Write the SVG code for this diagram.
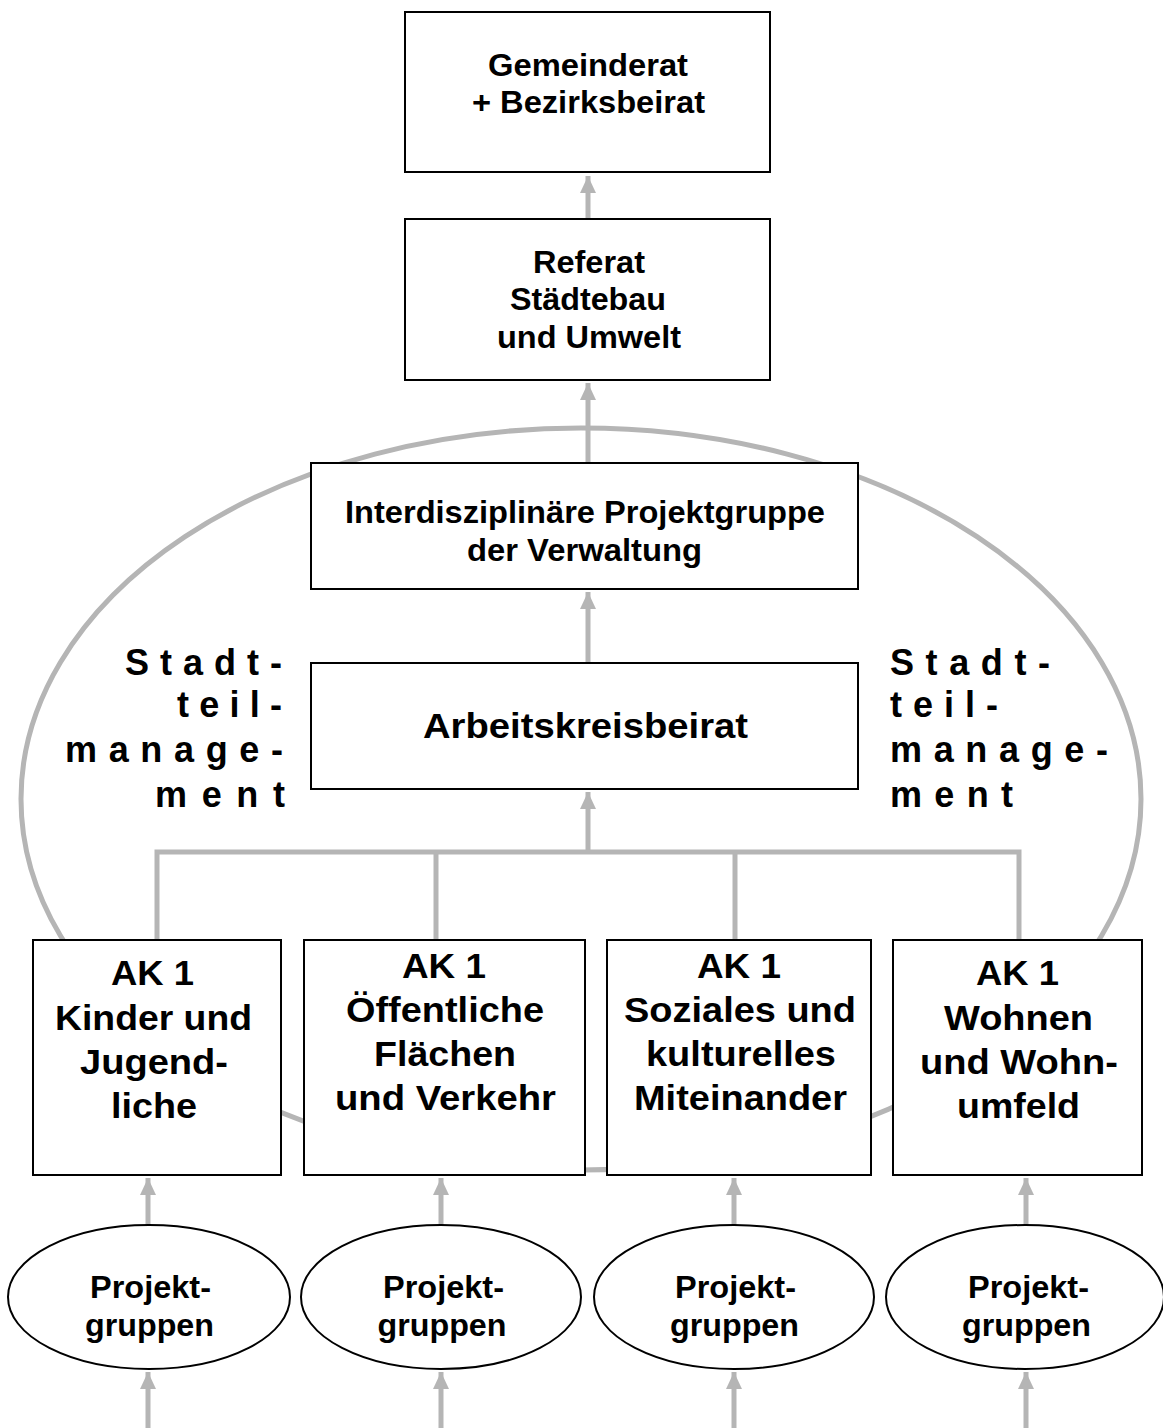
<svg xmlns="http://www.w3.org/2000/svg" width="1163" height="1428" viewBox="0 0 1163 1428">
<style>
.box{fill:#fff;stroke:#000;stroke-width:2}
.con{fill:none;stroke:#b5b5b5;stroke-width:5}
.t{font-family:"Liberation Sans",Arial,sans-serif;font-weight:bold;fill:#000;text-anchor:middle}
.t29{font-size:31px}
.t32{font-size:35px}
.t33{font-size:35px}
.s{font-family:"Liberation Sans",Arial,sans-serif;font-weight:bold;fill:#000;font-size:36px}
</style>
<defs>
<marker id="ah" markerUnits="userSpaceOnUse" markerWidth="18" markerHeight="18" viewBox="0 0 18 18" refX="17" refY="9" orient="auto">
<path d="M0,1 L17,9 L0,17 Z" fill="#b5b5b5"/>
</marker>
</defs>
<rect width="1163" height="1428" fill="#fff"/>
<ellipse id="stadtteil-ellipse" class="con" cx="581" cy="799" rx="560" ry="371"/>
<g id="connectors">
<line class="con" x1="588" y1="219" x2="588" y2="176" marker-end="url(#ah)"/>
<line class="con" x1="588" y1="463" x2="588" y2="383" marker-end="url(#ah)"/>
<line class="con" x1="588" y1="663" x2="588" y2="592" marker-end="url(#ah)"/>
<line class="con" x1="588" y1="854" x2="588" y2="792" marker-end="url(#ah)"/>
<polyline class="con" points="157,940 157,852 1019,852 1019,940"/>
<line class="con" x1="436" y1="852" x2="436" y2="940"/>
<line class="con" x1="735" y1="852" x2="735" y2="940"/>
<line class="con" x1="148" y1="1225" x2="148" y2="1178" marker-end="url(#ah)"/>
<line class="con" x1="441" y1="1225" x2="441" y2="1178" marker-end="url(#ah)"/>
<line class="con" x1="734" y1="1225" x2="734" y2="1178" marker-end="url(#ah)"/>
<line class="con" x1="1026" y1="1225" x2="1026" y2="1178" marker-end="url(#ah)"/>
<line class="con" x1="148" y1="1428" x2="148" y2="1372" marker-end="url(#ah)"/>
<line class="con" x1="441" y1="1428" x2="441" y2="1372" marker-end="url(#ah)"/>
<line class="con" x1="734" y1="1428" x2="734" y2="1372" marker-end="url(#ah)"/>
<line class="con" x1="1026" y1="1428" x2="1026" y2="1372" marker-end="url(#ah)"/>
</g>
<g id="gemeinderat">
<rect class="box" x="405" y="12" width="365" height="160"/>
<text class="t t29" x="588" y="76" textLength="200" lengthAdjust="spacingAndGlyphs">Gemeinderat</text>
<text class="t t29" x="588.5" y="113" textLength="233" lengthAdjust="spacingAndGlyphs">+ Bezirksbeirat</text>
</g>
<g id="referat">
<rect class="box" x="405" y="219" width="365" height="161"/>
<text class="t t29" x="589" y="273" textLength="112" lengthAdjust="spacingAndGlyphs">Referat</text>
<text class="t t29" x="588" y="310" textLength="156" lengthAdjust="spacingAndGlyphs">Städtebau</text>
<text class="t t29" x="589" y="348" textLength="184" lengthAdjust="spacingAndGlyphs">und Umwelt</text>
</g>
<g id="projektgruppe-verwaltung">
<rect class="box" x="311" y="463" width="547" height="126"/>
<text class="t t29" x="585" y="523" textLength="480" lengthAdjust="spacingAndGlyphs">Interdisziplinäre Projektgruppe</text>
<text class="t t29" x="584.5" y="561" textLength="235" lengthAdjust="spacingAndGlyphs">der Verwaltung</text>
</g>
<g id="arbeitskreisbeirat">
<rect class="box" x="311" y="663" width="547" height="126"/>
<text class="t t32" x="585.5" y="738" textLength="325" lengthAdjust="spacingAndGlyphs">Arbeitskreisbeirat</text>
</g>
<g id="stadtteilmanagement-left">
<text class="s" x="125" y="675" textLength="157" lengthAdjust="spacing">Stadt-</text>
<text class="s" x="177" y="717" textLength="105" lengthAdjust="spacing">teil-</text>
<text class="s" x="65" y="762" textLength="218" lengthAdjust="spacing">manage-</text>
<text class="s" x="155" y="807" textLength="130" lengthAdjust="spacing">ment</text>
</g>
<g id="stadtteilmanagement-right">
<text class="s" x="890" y="675" textLength="160" lengthAdjust="spacing">Stadt-</text>
<text class="s" x="890" y="717" textLength="108" lengthAdjust="spacing">teil-</text>
<text class="s" x="890" y="762" textLength="218" lengthAdjust="spacing">manage-</text>
<text class="s" x="890" y="807" textLength="123" lengthAdjust="spacing">ment</text>
</g>
<g id="ak-kinder">
<rect class="box" x="33" y="940" width="248" height="235"/>
<text class="t t33" x="152.5" y="985" textLength="83" lengthAdjust="spacingAndGlyphs">AK 1</text>
<text class="t t33" x="153.5" y="1030" textLength="197" lengthAdjust="spacingAndGlyphs">Kinder und</text>
<text class="t t33" x="154" y="1074" textLength="148" lengthAdjust="spacingAndGlyphs">Jugend-</text>
<text class="t t33" x="154" y="1118" textLength="86" lengthAdjust="spacingAndGlyphs">liche</text>
</g>
<g id="ak-flaechen">
<rect class="box" x="304" y="940" width="281" height="235"/>
<text class="t t33" x="444" y="978" textLength="84" lengthAdjust="spacingAndGlyphs">AK 1</text>
<text class="t t33" x="445" y="1022" textLength="198" lengthAdjust="spacingAndGlyphs">Öffentliche</text>
<text class="t t33" x="445" y="1066" textLength="142" lengthAdjust="spacingAndGlyphs">Flächen</text>
<text class="t t33" x="445.5" y="1110" textLength="221" lengthAdjust="spacingAndGlyphs">und Verkehr</text>
</g>
<g id="ak-soziales">
<rect class="box" x="607" y="940" width="264" height="235"/>
<text class="t t33" x="739" y="978" textLength="84" lengthAdjust="spacingAndGlyphs">AK 1</text>
<text class="t t33" x="740" y="1022" textLength="232" lengthAdjust="spacingAndGlyphs">Soziales und</text>
<text class="t t33" x="741" y="1066" textLength="190" lengthAdjust="spacingAndGlyphs">kulturelles</text>
<text class="t t33" x="740.5" y="1110" textLength="213" lengthAdjust="spacingAndGlyphs">Miteinander</text>
</g>
<g id="ak-wohnen">
<rect class="box" x="893" y="940" width="249" height="235"/>
<text class="t t33" x="1017.5" y="985" textLength="83" lengthAdjust="spacingAndGlyphs">AK 1</text>
<text class="t t33" x="1018.5" y="1030" textLength="149" lengthAdjust="spacingAndGlyphs">Wohnen</text>
<text class="t t33" x="1019" y="1074" textLength="198" lengthAdjust="spacingAndGlyphs">und Wohn-</text>
<text class="t t33" x="1018.5" y="1118" textLength="123" lengthAdjust="spacingAndGlyphs">umfeld</text>
</g>
<g id="pg-1">
<ellipse class="box" cx="149" cy="1297" rx="141" ry="72"/>
<text class="t t29" x="150.5" y="1298" textLength="121" lengthAdjust="spacingAndGlyphs">Projekt-</text>
<text class="t t29" x="149.5" y="1336" textLength="129" lengthAdjust="spacingAndGlyphs">gruppen</text>
</g>
<g id="pg-2">
<ellipse class="box" cx="441" cy="1297" rx="140" ry="72"/>
<text class="t t29" x="443.5" y="1298" textLength="121" lengthAdjust="spacingAndGlyphs">Projekt-</text>
<text class="t t29" x="442" y="1336" textLength="129" lengthAdjust="spacingAndGlyphs">gruppen</text>
</g>
<g id="pg-3">
<ellipse class="box" cx="734" cy="1297" rx="140" ry="72"/>
<text class="t t29" x="735.5" y="1298" textLength="121" lengthAdjust="spacingAndGlyphs">Projekt-</text>
<text class="t t29" x="734.5" y="1336" textLength="129" lengthAdjust="spacingAndGlyphs">gruppen</text>
</g>
<g id="pg-4">
<ellipse class="box" cx="1025" cy="1297" rx="139" ry="72"/>
<text class="t t29" x="1028.5" y="1298" textLength="121" lengthAdjust="spacingAndGlyphs">Projekt-</text>
<text class="t t29" x="1026.5" y="1336" textLength="129" lengthAdjust="spacingAndGlyphs">gruppen</text>
</g>
</svg>
